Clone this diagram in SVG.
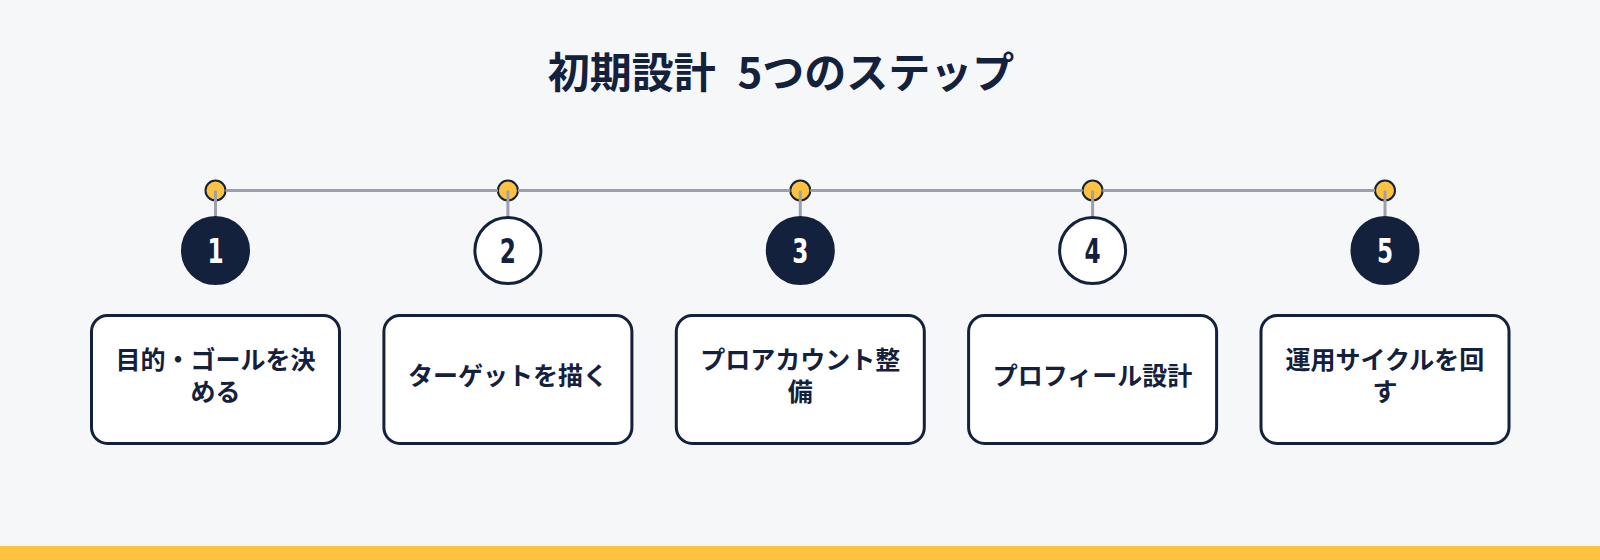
<svg xmlns="http://www.w3.org/2000/svg" width="1600" height="560" viewBox="0 0 1600 560">
<style>
.bg{fill:#f6f7f9}
.band{fill:#fdc23f}
.title{font-family:"Noto Sans CJK JP","Noto Sans",sans-serif;font-weight:700;font-size:42px;fill:#14213d;text-anchor:middle;dominant-baseline:central}
.dot{fill:#fdc23f;stroke:#14213d;stroke-width:2}
.cdark{fill:#14213d;stroke:#14213d;stroke-width:3}
.clight{fill:#ffffff;stroke:#14213d;stroke-width:3}
.num{font-family:"DejaVu Sans Condensed","DejaVu Sans",sans-serif;font-weight:700;font-size:33px;text-anchor:middle}
.nl{fill:#ffffff}
.nd{fill:#14213d}
.box{fill:#ffffff;stroke:#14213d;stroke-width:3}
.lbl{font-family:"Noto Sans CJK JP","Noto Sans",sans-serif;font-weight:700;font-size:25px;fill:#14213d;text-anchor:middle;dominant-baseline:central}
.line{stroke:#9ca0aa;stroke-width:3;fill:none}
</style>
<rect class="bg" x="0" y="0" width="1600" height="560"/>
<rect class="band" x="0" y="546" width="1600" height="14"/>
<text id="title" class="title" x="781" y="69">初期設計 <tspan dx="12">5つのステップ</tspan></text>

<g id="step1">
<circle class="dot" cx="215.5" cy="190.5" r="10"/>
<circle class="cdark" cx="215.5" cy="250.5" r="33"/>
<text class="num nl" transform="translate(215.5 262.5) scale(0.78 1)">1</text>
<rect class="box" x="91.5" y="315.5" width="248" height="128" rx="16"/>
<text class="lbl" x="215.5" y="358">目的・ゴールを決</text>
<text class="lbl" x="215.5" y="390">める</text>
</g>
<g id="step2">
<circle class="dot" cx="507.9" cy="190.5" r="10"/>
<circle class="clight" cx="507.9" cy="250.5" r="33"/>
<text class="num nd" transform="translate(507.9 262.5) scale(0.78 1)">2</text>
<rect class="box" x="383.9" y="315.5" width="248" height="128" rx="16"/>
<text class="lbl" x="507.9" y="374">ターゲットを描く</text>
</g>
<g id="step3">
<circle class="dot" cx="800.3" cy="190.5" r="10"/>
<circle class="cdark" cx="800.3" cy="250.5" r="33"/>
<text class="num nl" transform="translate(800.3 262.5) scale(0.78 1)">3</text>
<rect class="box" x="676.3" y="315.5" width="248" height="128" rx="16"/>
<text class="lbl" x="800.3" y="358">プロアカウント整</text>
<text class="lbl" x="800.3" y="390">備</text>
</g>
<g id="step4">
<circle class="dot" cx="1092.6" cy="190.5" r="10"/>
<circle class="clight" cx="1092.6" cy="250.5" r="33"/>
<text class="num nd" transform="translate(1092.6 262.5) scale(0.78 1)">4</text>
<rect class="box" x="968.6" y="315.5" width="248" height="128" rx="16"/>
<text class="lbl" x="1092.6" y="374">プロフィール設計</text>
</g>
<g id="step5">
<circle class="dot" cx="1385" cy="190.5" r="10"/>
<circle class="cdark" cx="1385" cy="250.5" r="33"/>
<text class="num nl" transform="translate(1385 262.5) scale(0.78 1)">5</text>
<rect class="box" x="1261" y="315.5" width="248" height="128" rx="16"/>
<text class="lbl" x="1385" y="358">運用サイクルを回</text>
<text class="lbl" x="1385" y="390">す</text>
</g>

<g id="connectors">
<line class="line" x1="225.5" y1="190.5" x2="497.9" y2="190.5"/>
<line class="line" x1="517.9" y1="190.5" x2="790.3" y2="190.5"/>
<line class="line" x1="810.3" y1="190.5" x2="1082.6" y2="190.5"/>
<line class="line" x1="1102.6" y1="190.5" x2="1375" y2="190.5"/>
<line class="line" x1="215.5" y1="190.5" x2="215.5" y2="216"/>
<line class="line" x1="507.9" y1="190.5" x2="507.9" y2="216"/>
<line class="line" x1="800.3" y1="190.5" x2="800.3" y2="216"/>
<line class="line" x1="1092.6" y1="190.5" x2="1092.6" y2="216"/>
<line class="line" x1="1385" y1="190.5" x2="1385" y2="216"/>
</g>
</svg>
